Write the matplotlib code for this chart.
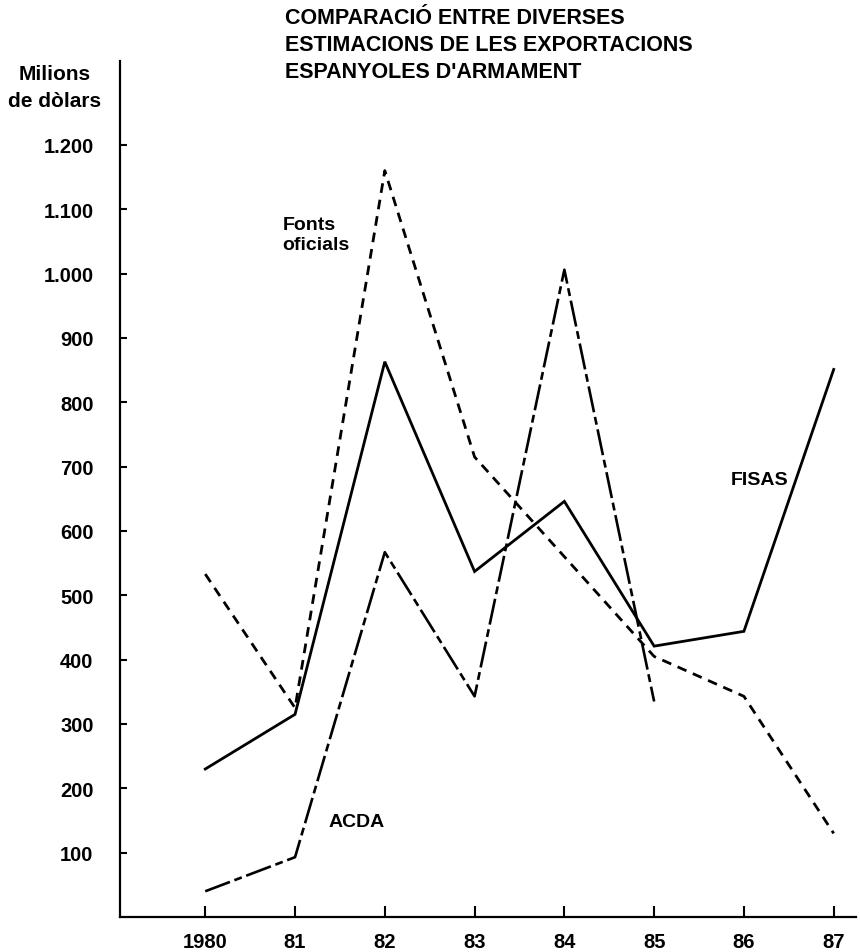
import matplotlib
matplotlib.use('Agg')
import matplotlib.pyplot as plt

plt.rcParams['font.family'] = ['Liberation Sans', 'DejaVu Sans']

# data (milions de dòlars)
years = [1980, 1981, 1982, 1983, 1984, 1985, 1986, 1987]
year_labels = ['1980', '81', '82', '83', '84', '85', '86', '87']
fisas = [230, 315, 863, 537, 646, 421, 444, 851]
fonts_oficials = [533, 325, 1160, 715, 560, 405, 343, 130]
acda_years = [1980, 1981, 1982, 1983, 1984, 1985]
acda = [40, 93, 567, 343, 1006, 335]
yticks = [100, 200, 300, 400, 500, 600, 700, 800, 900, 1000, 1100, 1200]
ytick_labels = ['100', '200', '300', '400', '500', '600', '700', '800', '900',
                '1.000', '1.100', '1.200']

fig = plt.figure(figsize=(8.6, 9.53), dpi=100)
ax = fig.add_axes([0.1395, 0.0367, 0.856, 0.898])

ax.plot(years, fisas, color='black', lw=2.0, solid_joinstyle='miter')
ax.plot(years, fonts_oficials, color='black', lw=2.0, linestyle=(0, (3.5, 2.5)))
ax.plot(acda_years, acda, color='black', lw=1.9, linestyle=(0, (10, 1.8, 3, 1.8)))

ax.set_xlim(1979.05, 1987.25)
ax.set_ylim(0, 1330)
ax.set_xticks(years)
ax.set_xticklabels(year_labels)
ax.set_yticks(yticks)
ax.set_yticklabels(ytick_labels)

for s in ['top', 'right']:
    ax.spines[s].set_visible(False)
for s in ['left', 'bottom']:
    ax.spines[s].set_linewidth(1.6)

ax.tick_params(axis='x', direction='in', length=8, width=1.5, pad=11, labelsize=14.5)
ax.tick_params(axis='y', direction='in', length=5, width=1.5, pad=19, labelsize=14.5)
for t in ax.get_xticklabels() + ax.get_yticklabels():
    t.set_fontweight('bold')

# series labels
ax.text(1980.86, 1090, 'Fonts\noficials', fontsize=14, fontweight='bold',
        va='top', ha='left', linespacing=1.25)
ax.text(1981.37, 148, 'ACDA', fontsize=14, fontweight='bold', va='center', ha='left')
ax.text(1985.85, 680, 'FISAS', fontsize=14, fontweight='bold', va='center', ha='left')

# y axis title
fig.text(0.064, 0.922, 'Milions', fontsize=15, fontweight='bold', ha='center', va='center')
fig.text(0.064, 0.893, 'de dòlars', fontsize=15, fontweight='bold', ha='center', va='center')

# chart title
title_lines = ['COMPARACIÓ ENTRE DIVERSES',
               'ESTIMACIONS DE LES EXPORTACIONS',
               "ESPANYOLES D'ARMAMENT"]
for i, line in enumerate(title_lines):
    fig.text(0.331, 0.981 - i * 0.0285, line, fontsize=15.5, fontweight='bold',
             ha='left', va='center')

fig.savefig('out.png', dpi=100)
